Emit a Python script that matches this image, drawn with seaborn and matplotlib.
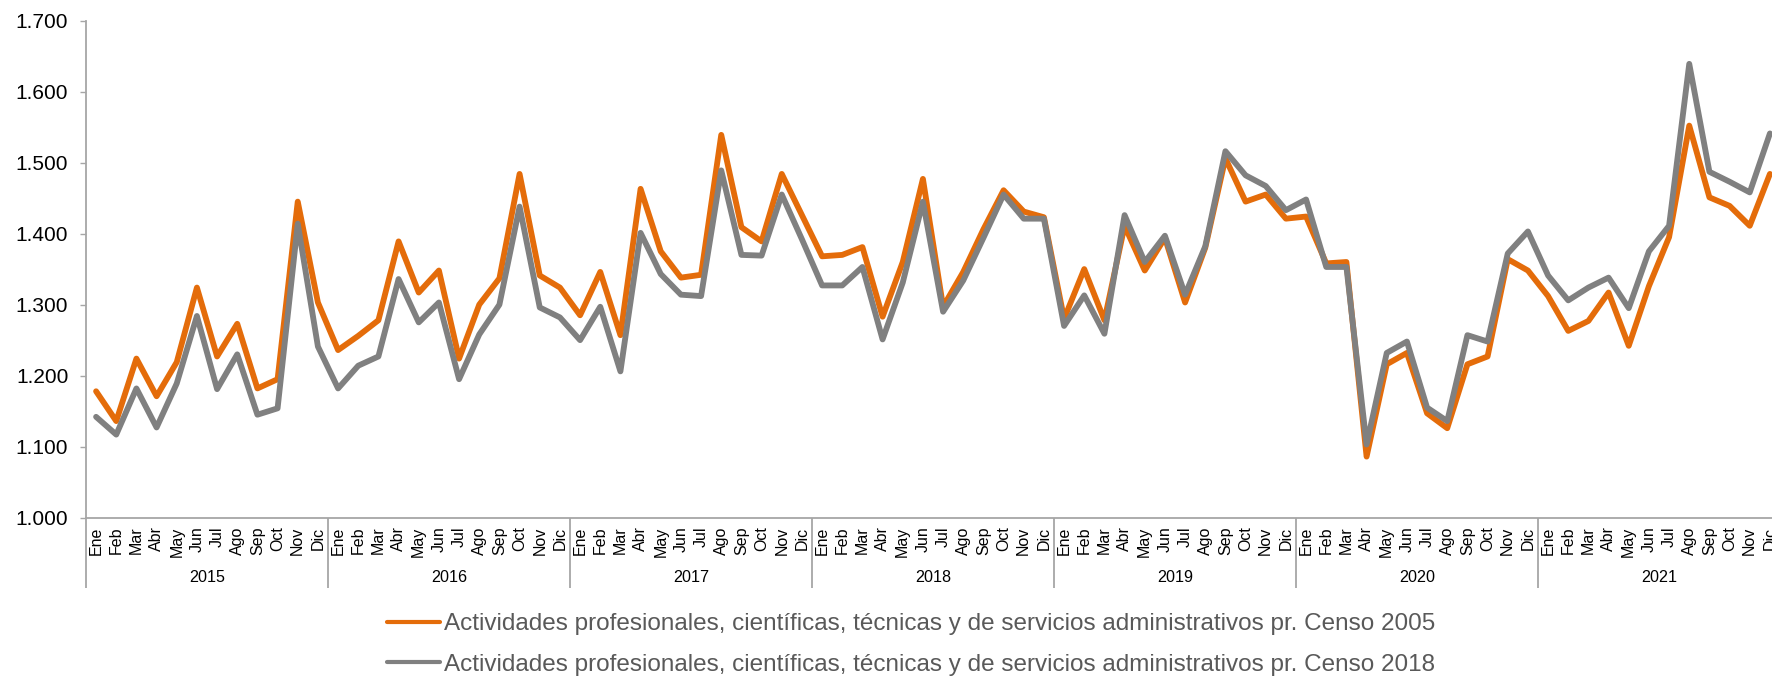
import numpy as np
import pandas as pd
import matplotlib
matplotlib.use("Agg")
import matplotlib.pyplot as plt
import matplotlib.transforms as mtransforms
from matplotlib.lines import Line2D
from matplotlib.ticker import FuncFormatter, MultipleLocator
import seaborn as sns

# Monthly series, 2015-2021
years = [2015, 2016, 2017, 2018, 2019, 2020, 2021]
months = ["Ene", "Feb", "Mar", "Abr", "May", "Jun", "Jul", "Ago", "Sep", "Oct", "Nov", "Dic"]

censo_2005 = [
    1178, 1136, 1224, 1171, 1219, 1324, 1227, 1273, 1182, 1195, 1445, 1303,
    1236, 1256, 1278, 1389, 1317, 1348, 1224, 1300, 1337, 1484, 1341, 1324,
    1285, 1346, 1257, 1463, 1375, 1338, 1342, 1539, 1409, 1389, 1484, 1426,
    1368, 1370, 1381, 1283, 1360, 1477, 1297, 1346, 1406, 1461, 1431, 1423,
    1280, 1350, 1278, 1411, 1348, 1394, 1303, 1380, 1506, 1445, 1455, 1421,
    1424, 1358, 1360, 1086, 1216, 1232, 1147, 1126, 1216, 1227, 1364, 1348,
    1312, 1263, 1277, 1317, 1242, 1326, 1395, 1552, 1451, 1439, 1411, 1484,
]
censo_2018 = [
    1142, 1117, 1182, 1127, 1189, 1284, 1181, 1230, 1145, 1154, 1414, 1241,
    1182, 1214, 1227, 1336, 1275, 1303, 1195, 1258, 1300, 1438, 1296, 1282,
    1250, 1297, 1206, 1401, 1343, 1314, 1312, 1489, 1370, 1369, 1455, 1392,
    1327, 1327, 1353, 1251, 1331, 1445, 1290, 1334, 1394, 1455, 1421, 1421,
    1270, 1313, 1259, 1426, 1360, 1397, 1314, 1382, 1516, 1482, 1467, 1433,
    1448, 1353, 1353, 1103, 1232, 1248, 1155, 1136, 1257, 1248, 1372, 1403,
    1341, 1306, 1324, 1338, 1295, 1375, 1411, 1639, 1487, 1473, 1458, 1541,
]
series_names = [
    "Actividades profesionales, científicas, técnicas y de servicios administrativos pr. Censo 2005",
    "Actividades profesionales, científicas, técnicas y de servicios administrativos pr. Censo 2018",
]
series_colors = ["#E46C0A", "#808080"]

sns.set_theme(style="white")
plt.rcParams["font.family"] = ["Liberation Sans", "DejaVu Sans"]

n = len(years) * len(months)
df = pd.DataFrame({
    "idx": np.tile(np.arange(n), 2),
    "valor": censo_2005 + censo_2018,
    "serie": [series_names[0]] * n + [series_names[1]] * n,
})

W, H = 1772, 677
fig = plt.figure(figsize=(W / 100, H / 100), dpi=100)
ax = fig.add_axes([86 / W, (H - 517.7) / H, 1694 / W, (517.7 - 20.5) / H])

sns.lineplot(data=df, x="idx", y="valor", hue="serie", palette=series_colors,
             linewidth=4.2, ax=ax, legend=False, sort=False)
for ln in ax.lines:
    ln.set_solid_joinstyle("round")
    ln.set_solid_capstyle("round")

axis_grey = "#A6A6A6"
ax.set_xlim(-0.5, n - 0.5)
ax.set_ylim(1000, 1700)
ax.yaxis.set_major_locator(MultipleLocator(100))
ax.yaxis.set_major_formatter(FuncFormatter(lambda v, p: f"{int(round(v)):,}".replace(",", ".")))
ax.set_xticks(np.arange(n))
ax.set_xticklabels(months * len(years), rotation=90, fontsize=11.5, color="#000000")
ax.tick_params(axis="x", length=0, pad=6.3)
ax.tick_params(axis="y", length=4.3, width=1.0, color=axis_grey, pad=8.4,
               labelsize=15, labelcolor="#000000", left=True)
ax.set_xlabel("")
ax.set_ylabel("")
ax.grid(False)
for side in ["top", "right"]:
    ax.spines[side].set_visible(False)
for side in ["left", "bottom"]:
    ax.spines[side].set_color(axis_grey)
    ax.spines[side].set_linewidth(1.3)

# Year groups below the month labels
trans = mtransforms.blended_transform_factory(ax.transData, ax.transAxes)
depth = (588.3 - 517.7) / (517.7 - 20.5)
for b in np.arange(-0.5, n, 12):
    ax.plot([b, b], [0, -depth], transform=trans, color=axis_grey, lw=1.3,
            clip_on=False, solid_capstyle="butt")
year_y = -(577.8 - 517.7) / (517.7 - 20.5)
for k, yr in enumerate(years):
    ax.text(12 * k + 5.5, year_y, str(yr), transform=trans, ha="center", va="center",
            fontsize=11.6, color="#000000")

handles = [Line2D([], [], color=c, lw=3.0, solid_capstyle="round") for c in series_colors]
fig.legend(handles, series_names, loc="center left",
           bbox_to_anchor=(386.7 / W, (H - 644.5) / H), frameon=False,
           fontsize=17.5, labelcolor="#595959", handlelength=2.18, handletextpad=0.165,
           labelspacing=0.78, borderpad=0, borderaxespad=0)

fig.savefig("out.png", dpi=100)
